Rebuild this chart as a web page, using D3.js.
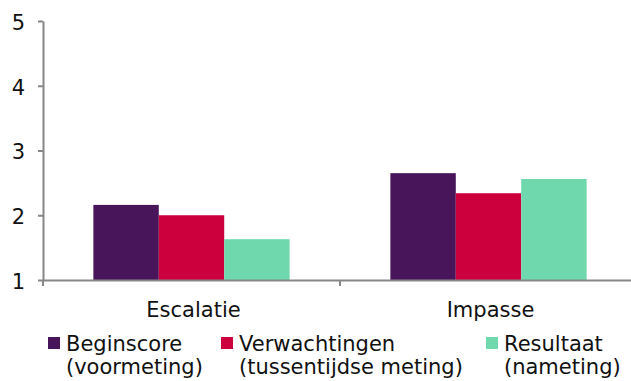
<!DOCTYPE html>
<html>
<head>
<meta charset="utf-8">
<script src="https://cdn.jsdelivr.net/npm/d3@7"></script>
<style>
  html, body { margin: 0; padding: 0; background: #fff; }
  svg { display: block; font-family: "DejaVu Sans", Verdana, sans-serif; }
</style>
</head>
<body>
<svg id="chart" width="631" height="381"></svg>
<script>
const categories = ["Escalatie", "Impasse"];
const seriesNames = ["Beginscore", "Verwachtingen", "Resultaat"];
const seriesSub = ["(voormeting)", "(tussentijdse meting)", "(nameting)"];
const seriesColors = ["#48145a", "#cc003d", "#6fd8ac"];
const beginscore = [2.16, 2.65];
const verwachtingen = [2.00, 2.34];
const resultaat = [1.63, 2.56];
const yTicks = [1, 2, 3, 4, 5];

(function () {
const values = [beginscore, verwachtingen, resultaat];
const rows = categories.map((c, i) => ({ cat: c, vals: seriesNames.map((s, j) => ({ key: s, v: values[j][i], color: seriesColors[j] })) }));

const svg = d3.select("#chart");
const mLeft = 43, mRight = 637, mTop = 21, mBottom = 280;
const axisColor = "#878787";
const textColor = "#111";
const font = '"DejaVu Sans", Verdana, sans-serif';
const fs = 21;

const x = d3.scaleBand().domain(categories).range([mLeft, mRight]).paddingInner(0).paddingOuter(0);
const xs = d3.scaleBand().domain(seriesNames).range([0, x.bandwidth()]).paddingInner(0).paddingOuter(0.77);
const y = d3.scaleLinear().domain([1, 5]).range([mBottom, mTop]);

// bars
const g = svg.append("g");
g.selectAll("g.cat").data(rows).join("g").attr("class", "cat")
  .attr("transform", d => `translate(${x(d.cat)},0)`)
  .selectAll("rect").data(d => d.vals).join("rect")
  .attr("x", d => xs(d.key))
  .attr("width", xs.bandwidth())
  .attr("y", d => y(d.v))
  .attr("height", d => y(1) - y(d.v))
  .attr("fill", d => d.color);

// y axis
const yAxis = svg.append("g").attr("transform", `translate(${mLeft},0)`)
  .call(d3.axisLeft(y).tickValues(yTicks).tickFormat(d3.format("d")).tickSize(5).tickPadding(13).tickSizeOuter(0));
yAxis.select(".domain").attr("stroke", axisColor).attr("stroke-width", 2);
yAxis.selectAll(".tick line").attr("stroke", axisColor).attr("stroke-width", 2);
yAxis.selectAll(".tick text").attr("fill", textColor).attr("font-size", fs)
  .attr("font-family", font).attr("dy", "0.4em");
svg.append("line").attr("x1", mLeft).attr("x2", mLeft).attr("y1", mBottom).attr("y2", mBottom + 6)
  .attr("stroke", axisColor).attr("stroke-width", 2);

// x axis
const xAxis = svg.append("g").attr("transform", `translate(0,${mBottom})`)
  .call(d3.axisBottom(x).tickSize(0).tickSizeOuter(0).tickPadding(22));
xAxis.select(".domain").attr("stroke", axisColor).attr("stroke-width", 2);
xAxis.selectAll(".tick text").attr("fill", textColor).attr("font-size", fs)
  .attr("font-family", font).attr("dy", "0.71em").attr("dx", 2);
const bounds = categories.map(c => x(c)).concat([x(categories[categories.length - 1]) + x.bandwidth()]);
xAxis.selectAll("line.bound").data(bounds.slice(1)).join("line").attr("class", "bound")
  .attr("x1", d => d).attr("x2", d => d).attr("y1", 0).attr("y2", 6)
  .attr("stroke", axisColor).attr("stroke-width", 2);

// legend
const legendX = [48, 221, 486];
const leg = svg.append("g");
const items = leg.selectAll("g").data(seriesNames).join("g")
  .attr("transform", (d, i) => `translate(${legendX[i]},337)`);
items.append("rect").attr("width", 12).attr("height", 12).attr("fill", (d, i) => seriesColors[i]);
const t = items.append("text").attr("fill", textColor).attr("font-size", fs).attr("font-family", font);
t.append("tspan").attr("x", 18).attr("y", 14).text(d => d);
t.append("tspan").attr("x", 18).attr("y", 37).text((d, i) => seriesSub[i]);
})();
</script>
</body>
</html>
